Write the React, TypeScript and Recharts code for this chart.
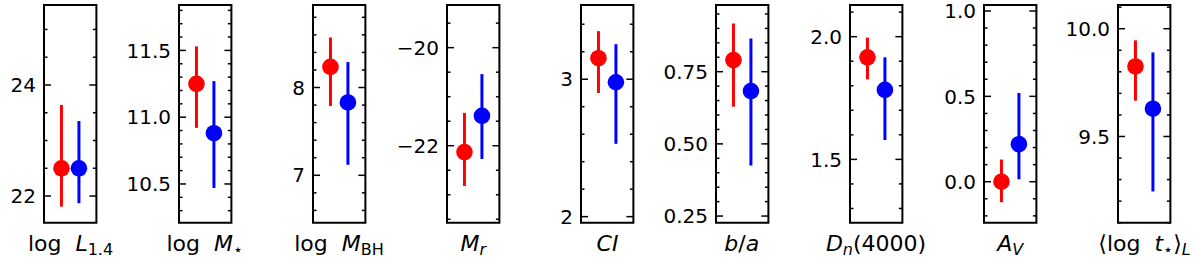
import React from 'react';
import { ScatterChart, Scatter, XAxis, YAxis, ErrorBar, ReferenceArea } from 'recharts';

// ---------- data ----------
const panelKeys = ['logL14', 'logMstar', 'logMBH', 'Mr', 'CI', 'ba', 'Dn4000', 'AV', 'logtstar'];

const yDomainLow = [21.52, 10.21, 6.46, -23.57, 1.956, 0.227, 1.242, -0.24, 9.1];
const yDomainHigh = [25.44, 11.84, 8.94, -19.13, 3.54, 0.981, 2.129, 1.035, 10.11];

const majorTicks = [
  [22, 24],
  [10.5, 11.0, 11.5],
  [7, 8],
  [-22, -20],
  [2, 3],
  [0.25, 0.5, 0.75],
  [1.5, 2.0],
  [0.0, 0.5, 1.0],
  [9.5, 10.0],
];
const tickDecimals = [0, 1, 0, 0, 0, 2, 1, 1, 1];
const minorStep = [0.5, 0.1, 0.2, 0.5, 0.2, 0.05, 0.1, 0.1, 0.1];

const redMid = [22.5, 11.25, 8.235, -22.13, 3.153, 0.79, 1.916, 0.0, 9.825];
const redLow = [21.81, 10.92, 7.79, -22.82, 2.9, 0.629, 1.826, -0.12, 9.666];
const redHigh = [23.64, 11.53, 8.57, -21.33, 3.35, 0.917, 1.996, 0.13, 9.946];

const blueMid = [22.5, 10.88, 7.83, -21.39, 2.978, 0.683, 1.783, 0.22, 9.629];
const blueLow = [21.87, 10.47, 7.12, -22.27, 2.53, 0.425, 1.579, 0.014, 9.245];
const blueHigh = [23.35, 11.27, 8.29, -20.54, 3.255, 0.865, 1.916, 0.52, 9.89];

const redX = 1;
const blueX = 2;
const xDomain = [0, 3];

type Part = { t: string; it?: boolean; sub?: boolean };
const axisLabels: Part[][] = [
  [{ t: 'log\u00A0\u00A0' }, { t: 'L', it: true }, { t: '1.4', sub: true }],
  [{ t: 'log\u00A0\u00A0' }, { t: 'M', it: true }, { t: '\u22C6', sub: true }],
  [{ t: 'log\u00A0\u00A0' }, { t: 'M', it: true }, { t: 'BH', sub: true }],
  [{ t: 'M', it: true }, { t: 'r', it: true, sub: true }],
  [{ t: 'CI', it: true }],
  [{ t: 'b', it: true }, { t: '/' }, { t: 'a', it: true }],
  [{ t: 'D', it: true }, { t: 'n', it: true, sub: true }, { t: '(4000)' }],
  [{ t: 'A', it: true }, { t: 'V', it: true, sub: true }],
  [{ t: '\u27E8log\u00A0\u00A0' }, { t: 't', it: true }, { t: '\u22C6', sub: true }, { t: '\u27E9' }, { t: 'L', it: true, sub: true }],
];

// ---------- layout ----------
const PLOT_LEFT0 = 44.3;
const PANEL_STEP = 134.25;
const PLOT_W = 52.4;
const PLOT_TOP = 5;
const PLOT_BOTTOM = 222.7;
const H = 274;
const YAXIS_W = 60;
const RIGHT_PAD = 10;
const TICK_MARGIN = 8;
const FONT = '"DejaVu Sans", sans-serif';

function fmt(v: number, dec: number) {
  return v.toFixed(dec).replace('-', '\u2212');
}

function buildTicks(i: number) {
  const lo = yDomainLow[i];
  const hi = yDomainHigh[i];
  const step = minorStep[i];
  const out: number[] = [];
  for (let k = Math.ceil(lo / step - 1e-9); k * step <= hi + 1e-9; k++) {
    out.push(Math.round(k * step * 1e6) / 1e6);
  }
  return out;
}

function makeTick(i: number) {
  return (props: any) => {
    const { x, y, payload } = props;
    const v = payload.value;
    const isMajor = majorTicks[i].some((m) => Math.abs(m - v) < 1e-6);
    const left = x + TICK_MARGIN;
    const right = left + PLOT_W;
    const len = isMajor ? 7 : 3.5;
    return (
      <g>
        <line x1={left} x2={left + len} y1={y} y2={y} stroke="#000" strokeWidth={1.5} />
        <line x1={right - len} x2={right} y1={y} y2={y} stroke="#000" strokeWidth={1.5} />
        {isMajor && (
          <text x={x} y={y} dy="0.36em" textAnchor="end" fontSize={20} fontFamily={FONT} fill="#000">
            {fmt(v, tickDecimals[i])}
          </text>
        )}
      </g>
    );
  };
}

const dot = (color: string) => (props: any) => {
  const { cx, cy } = props;
  return <circle cx={cx} cy={cy} r={8.3} fill={color} />;
};

function Panel({ i }: { i: number }) {
  const plotLeft = PLOT_LEFT0 + i * PANEL_STEP;
  const red = [{ x: redX, y: redMid[i], err: [redMid[i] - redLow[i], redHigh[i] - redMid[i]] }];
  const blue = [{ x: blueX, y: blueMid[i], err: [blueMid[i] - blueLow[i], blueHigh[i] - blueMid[i]] }];
  return (
    <div style={{ position: 'absolute', left: plotLeft - YAXIS_W, top: 0 }}>
      <ScatterChart
        width={YAXIS_W + PLOT_W + RIGHT_PAD}
        height={H}
        margin={{ top: PLOT_TOP, right: RIGHT_PAD, bottom: H - PLOT_BOTTOM, left: 0 }}
      >
        <XAxis type="number" dataKey="x" domain={xDomain} hide allowDataOverflow />
        <YAxis
          type="number"
          dataKey="y"
          domain={[yDomainLow[i], yDomainHigh[i]]}
          allowDataOverflow
          width={YAXIS_W}
          ticks={buildTicks(i)}
          interval={0}
          tickSize={0}
          tickMargin={TICK_MARGIN}
          axisLine={false}
          tickLine={false}
          tick={makeTick(i)}
        />
        <ReferenceArea
          x1={xDomain[0]}
          x2={xDomain[1]}
          y1={yDomainLow[i]}
          y2={yDomainHigh[i]}
          fill="none"
          fillOpacity={0}
          stroke="#000"
          strokeWidth={2}
          ifOverflow="visible"
        />
        <Scatter data={red} fill="#ff0000" shape={dot('#ff0000')} isAnimationActive={false}>
          <ErrorBar dataKey="err" direction="y" width={0} stroke="#ff0000" strokeWidth={3} isAnimationActive={false} />
        </Scatter>
        <Scatter data={blue} fill="#0000ff" shape={dot('#0000ff')} isAnimationActive={false}>
          <ErrorBar dataKey="err" direction="y" width={0} stroke="#0000ff" strokeWidth={3} isAnimationActive={false} />
        </Scatter>
      </ScatterChart>
    </div>
  );
}

function Label({ parts, cx }: { parts: Part[]; cx: number }) {
  let shift = 0;
  return (
    <text x={cx} y={251} textAnchor="middle" fontSize={22} fontFamily={FONT} fill="#000">
      {parts.map((p, k) => {
        const target = p.sub ? 4 : 0;
        const dy = target - shift;
        shift = target;
        return (
          <tspan key={k} dy={dy} fontStyle={p.it ? 'italic' : 'normal'} fontSize={p.sub ? 16 : 22}>
            {p.t}
          </tspan>
        );
      })}
    </text>
  );
}

export default function App() {
  return (
    <div style={{ position: 'absolute', left: 0, top: 0, width: 1200, height: H, background: '#fff' }}>
      {panelKeys.map((k, i) => (
        <Panel key={k} i={i} />
      ))}
      <svg width={1200} height={H} style={{ position: 'absolute', left: 0, top: 0, pointerEvents: 'none' }}>
        {panelKeys.map((k, i) => (
          <Label key={k} parts={axisLabels[i]} cx={PLOT_LEFT0 + i * PANEL_STEP + PLOT_W / 2} />
        ))}
      </svg>
    </div>
  );
}
